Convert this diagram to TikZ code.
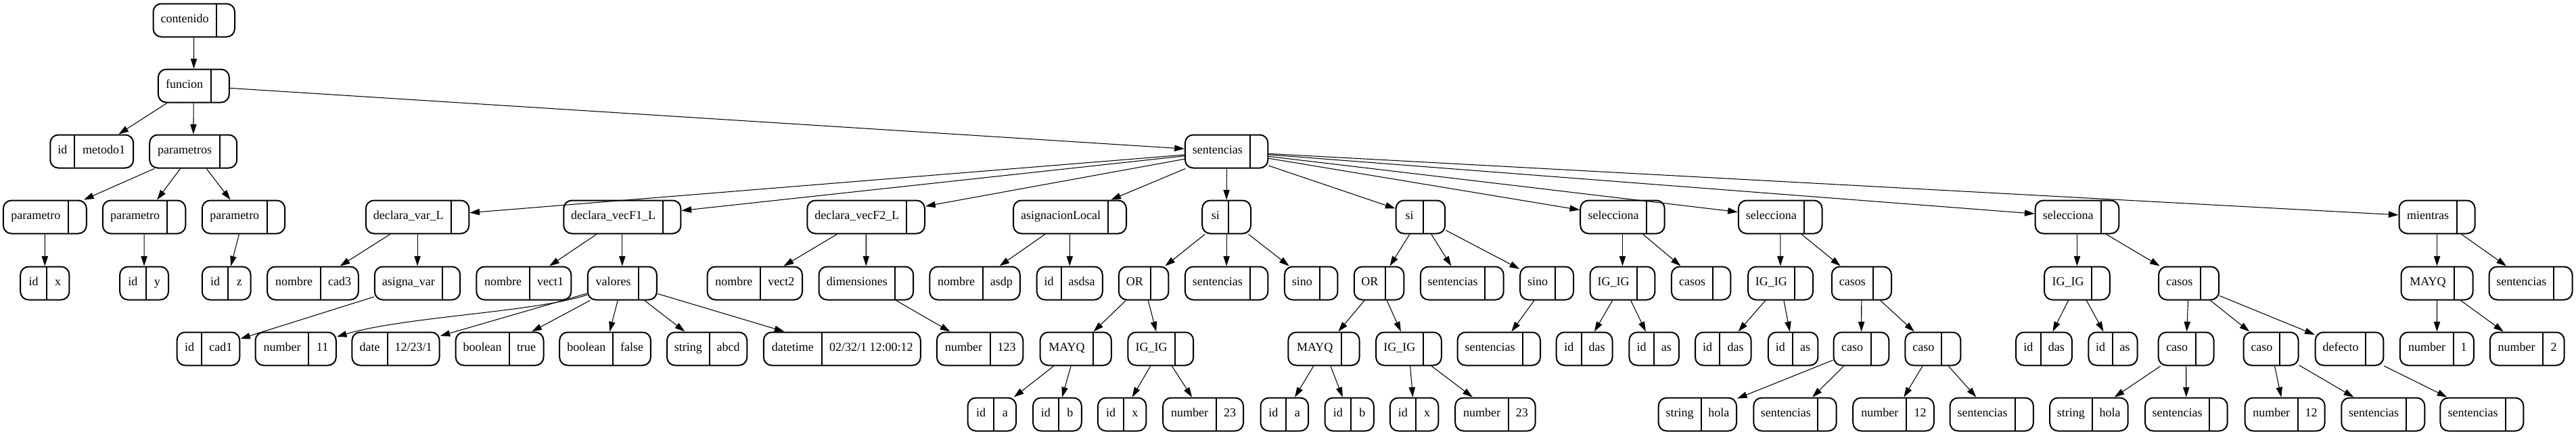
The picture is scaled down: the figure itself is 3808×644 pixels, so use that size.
\documentclass[tikz,border=0pt]{standalone}
\usepackage{fontspec}
\setmainfont{Liberation Serif}
\usetikzlibrary{arrows.meta}
\tikzset{
  recbox/.style={draw, line width=1.5pt, rounded corners=9pt, inner sep=0pt, minimum height=36.75pt, fill=white},
  recdiv/.style={line width=1.5pt},
  rectext/.style={inner sep=0pt, font=\fontsize{13.5}{16}\selectfont, text height=0.68em, text depth=0.2em},
  conn/.style={-{Triangle[length=11pt,width=7pt]}, line width=0.8pt},
}
\newcommand{\recnode}[7]{%
  \node[recbox, minimum width={(#4-#2)*0.75pt}] (#1) at ({(#2+#4)/2},#5) {};
  \draw[recdiv] ({#3},{#5-24.5}) -- ({#3},{#5+24.5});
  \node[rectext] at ({(#2+#3)/2},#5) {#6};
  \node[rectext] at ({(#3+#4)/2},#5) {#7};
}
\begin{document}
\begin{tikzpicture}[x=0.75pt,y=-0.75pt]
\fill[white] (0,0) rectangle (3808,644);
\useasboundingbox (0,0) rectangle (3808,644);
\def\rA{30}\def\rB{127}\def\rC{224}\def\rD{321}\def\rE{419}\def\rF{516}\def\rG{613}
% row 0-2
\recnode{contenido}{226.5}{319.6}{347}{\rA}{contenido}{}
\recnode{funcion}{233.9}{311.5}{338.8}{\rB}{funcion}{}
\recnode{metodo}{74.3}{110.2}{197.2}{\rC}{id}{metodo1}
\recnode{parametros}{221.2}{324.9}{350.2}{\rC}{parametros}{}
\recnode{par1}{4.9}{100.8}{127.8}{\rD}{parametro}{}
\recnode{par2}{151.8}{247.4}{274.3}{\rD}{parametro}{}
\recnode{par3}{298.8}{394.7}{421.2}{\rD}{parametro}{}
\recnode{idx0}{30.2}{69}{102.4}{\rE}{id}{x}
\recnode{idy0}{177.2}{215.5}{249}{\rE}{id}{y}
\recnode{idz0}{298.8}{337.2}{370.6}{\rE}{id}{z}
\recnode{sent}{1751.9}{1847.8}{1874.3}{\rC}{sentencias}{}
% declara_var_L
\recnode{dvl}{540.8}{666.7}{693.3}{\rD}{declara\_var\_L}{}
\recnode{cad3}{395.1}{474.3}{529.8}{\rE}{nombre}{cad3}
\recnode{asig}{553.9}{653.7}{680.2}{\rE}{asigna\_var}{}
\recnode{cad1}{261.6}{298.4}{354.3}{\rF}{id}{cad1}
\recnode{n11}{377.6}{456.4}{496.8}{\rF}{number}{11}
\recnode{date}{520.4}{572.7}{649.6}{\rF}{date}{12/23/1}
% declara_vecF1_L
\recnode{dv1}{833.3}{979.8}{1006.4}{\rD}{declara\_vecF1\_L}{}
\recnode{vect1}{704.3}{783.1}{844.3}{\rE}{nombre}{vect1}
\recnode{val}{868.8}{944.3}{970.9}{\rE}{valores}{}
\recnode{btrue}{673.7}{752.5}{803.5}{\rF}{boolean}{true}
\recnode{bfalse}{827.2}{906.4}{961.9}{\rF}{boolean}{false}
\recnode{abcd}{986}{1048.8}{1104.3}{\rF}{string}{abcd}
\recnode{dt}{1128.8}{1215}{1360.8}{\rF}{datetime}{02/32/1 12:00:12}
% declara_vecF2_L
\recnode{dv2}{1193.3}{1340.4}{1367}{\rD}{declara\_vecF2\_L}{}
\recnode{vect2}{1045.6}{1123.9}{1186}{\rE}{nombre}{vect2}
\recnode{dim}{1210.5}{1323.3}{1350.2}{\rE}{dimensiones}{}
\recnode{n123}{1384.9}{1464.1}{1512.3}{\rF}{number}{123}
% asignacionLocal
\recnode{asl}{1498}{1638.4}{1665}{\rD}{asignacionLocal}{}
\recnode{asdp}{1374.3}{1453.1}{1507.8}{\rE}{nombre}{asdp}
\recnode{asdsa}{1532.7}{1568.6}{1629.8}{\rE}{id}{asdsa}
% si 1
\recnode{si1}{1777.2}{1816.4}{1849}{\rD}{si}{}
\recnode{or1}{1653.9}{1700.8}{1727.4}{\rE}{OR}{}
\recnode{s1}{1751.9}{1847.8}{1874.3}{\rE}{sentencias}{}
\recnode{sino1}{1898.9}{1950.8}{1977.4}{\rE}{sino}{}
\recnode{mq1}{1537.6}{1616.4}{1642.9}{\rF}{MAYQ}{}
\recnode{ig1}{1667.4}{1736.8}{1764.2}{\rF}{IG\_IG}{}
\recnode{a1}{1430.6}{1469.4}{1502.1}{\rG}{id}{a}
\recnode{b1}{1527}{1564.9}{1598.8}{\rG}{id}{b}
\recnode{x1}{1622.9}{1661.3}{1694.3}{\rG}{id}{x}
\recnode{n23a}{1719.2}{1798}{1838}{\rG}{number}{23}
% si 2
\recnode{si2}{2063.5}{2103.5}{2136.2}{\rD}{si}{}
\recnode{or2}{2001.8}{2048}{2075.3}{\rE}{OR}{}
\recnode{s2}{2099.8}{2195.3}{2222.7}{\rE}{sentencias}{}
\recnode{sino2}{2247.2}{2299}{2326}{\rE}{sino}{}
\recnode{mq2}{1904.3}{1983.1}{2009.6}{\rF}{MAYQ}{}
\recnode{ig2}{2034.1}{2103.5}{2130.8}{\rF}{IG\_IG}{}
\recnode{s2b}{2154.5}{2250.9}{2277}{\rF}{sentencias}{}
\recnode{a2}{1863.5}{1901.4}{1934.1}{\rG}{id}{a}
\recnode{b2}{1958.6}{1997}{2030.8}{\rG}{id}{b}
\recnode{x2}{2054.9}{2092.9}{2126.3}{\rG}{id}{x}
\recnode{n23b}{2151.2}{2230}{2269.6}{\rG}{number}{23}
% selecciona 1
\recnode{sel1}{2336.2}{2434.1}{2460.7}{\rD}{selecciona}{}
\recnode{ig3}{2350.5}{2419.9}{2446.4}{\rE}{IG\_IG}{}
\recnode{casos1}{2470.9}{2532.2}{2558.4}{\rE}{casos}{}
\recnode{das1}{2300.7}{2337.8}{2383.5}{\rF}{id}{das}
\recnode{as1}{2408.4}{2444.7}{2481.9}{\rF}{id}{as}
% selecciona 2
\recnode{sel2}{2569.8}{2667}{2693.5}{\rD}{selecciona}{}
\recnode{ig4}{2584.1}{2652.7}{2680}{\rE}{IG\_IG}{}
\recnode{casos2}{2707.8}{2769}{2796}{\rE}{casos}{}
\recnode{das2}{2506}{2542.4}{2588.6}{\rF}{id}{das}
\recnode{as2}{2613.9}{2649.8}{2687.4}{\rF}{id}{as}
\recnode{caso2a}{2710.6}{2765.7}{2792.3}{\rF}{caso}{}
\recnode{caso2b}{2816.4}{2870.2}{2898.4}{\rF}{caso}{}
\recnode{hola2}{2451.7}{2514.5}{2567}{\rG}{string}{hola}
\recnode{s2c}{2592.3}{2687.4}{2714.7}{\rG}{sentencias}{}
\recnode{n12b}{2739.2}{2818.4}{2858.8}{\rG}{number}{12}
\recnode{s2d}{2882.5}{2978.8}{3005.8}{\rG}{sentencias}{}
% selecciona 3
\recnode{sel3}{3008.6}{3105.8}{3132.3}{\rD}{selecciona}{}
\recnode{ig5}{3022.1}{3092.3}{3118.8}{\rE}{IG\_IG}{}
\recnode{casos3}{3191.1}{3252.8}{3280.1}{\rE}{casos}{}
\recnode{das3}{2980}{3016.8}{3062.9}{\rF}{id}{das}
\recnode{as3}{3087.4}{3122.9}{3159.5}{\rF}{id}{as}
\recnode{caso3a}{3190.7}{3245.7}{3272.5}{\rF}{caso}{}
\recnode{caso3b}{3316.6}{3370.3}{3397.6}{\rF}{caso}{}
\recnode{def}{3422.7}{3497.4}{3523.4}{\rF}{defecto}{}
\recnode{hola3}{3030.2}{3092.7}{3145.7}{\rG}{string}{hola}
\recnode{s3a}{3171}{3266.2}{3292.7}{\rG}{sentencias}{}
\recnode{n12c}{3318.7}{3396.7}{3436.6}{\rG}{number}{12}
\recnode{s3b}{3461.3}{3557}{3584.3}{\rG}{sentencias}{}
\recnode{s3c}{3607.4}{3703.9}{3730.3}{\rG}{sentencias}{}
% mientras
\recnode{mien}{3546.5}{3631.7}{3658.6}{\rD}{mientras}{}
\recnode{mq3}{3549.5}{3628.3}{3655.6}{\rE}{MAYQ}{}
\recnode{s4}{3679.5}{3775.2}{3802.5}{\rE}{sentencias}{}
\recnode{n1}{3547.8}{3627.1}{3656.9}{\rF}{number}{1}
\recnode{n2}{3680.8}{3759.3}{3790.7}{\rF}{number}{2}
% connectors
\foreach \a/\b in {contenido/funcion, funcion/metodo, funcion/parametros, funcion/sent,
  parametros/par1, parametros/par2, parametros/par3, par1/idx0, par2/idy0, par3/idz0,
  sent/dvl, sent/dv1, sent/dv2, sent/asl, sent/si1, sent/si2, sent/sel1, sent/sel2, sent/sel3, sent/mien,
  dvl/cad3, dvl/asig, asig/cad1,
  dv1/vect1, dv1/val, val/date, val/btrue, val/bfalse, val/abcd, val/dt,
  dv2/vect2, dv2/dim, dim/n123,
  asl/asdp, asl/asdsa,
  si1/or1, si1/s1, si1/sino1, or1/mq1, or1/ig1, mq1/a1, mq1/b1, ig1/x1, ig1/n23a,
  si2/or2, si2/s2, si2/sino2, or2/mq2, or2/ig2, mq2/a2, mq2/b2, ig2/x2, ig2/n23b, sino2/s2b,
  sel1/ig3, sel1/casos1, ig3/das1, ig3/as1,
  sel2/ig4, sel2/casos2, ig4/das2, ig4/as2, casos2/caso2a, casos2/caso2b,
  caso2a/hola2, caso2a/s2c, caso2b/n12b, caso2b/s2d,
  sel3/ig5, sel3/casos3, ig5/das3, ig5/as3, casos3/caso3a, casos3/caso3b, casos3/def,
  caso3a/hola3, caso3a/s3a, caso3b/n12c, caso3b/s3b, def/s3c,
  mien/mq3, mien/s4, mq3/n1, mq3/n2}
  \draw[conn] (\a) -- (\b);
\draw[conn] (val) .. controls (790,462) and (600,468) .. (n11);
\end{tikzpicture}
\end{document}
